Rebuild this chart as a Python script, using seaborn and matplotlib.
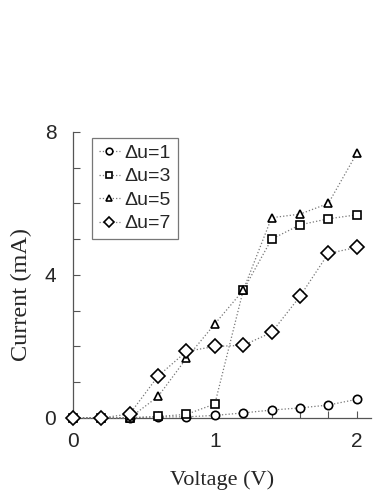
import matplotlib
matplotlib.use('Agg')
import matplotlib.pyplot as plt
import seaborn as sns
import pandas as pd
from matplotlib.ticker import MultipleLocator

voltage = [0, 0.2, 0.4, 0.6, 0.8, 1.0, 1.2, 1.4, 1.6, 1.8, 2.0]
du1 = [0, 0, 0.01, 0.03, 0.03, 0.07, 0.14, 0.22, 0.28, 0.36, 0.52]
du3 = [0, 0, 0, 0.04, 0.1, 0.39, 3.57, 5.0, 5.4, 5.57, 5.68]
du5 = [0, 0, 0, 0.6, 1.67, 2.63, 3.57, 5.6, 5.7, 6.0, 7.4]
du7 = [0, 0, 0.11, 1.17, 1.86, 2.0, 2.03, 2.39, 3.4, 4.6, 4.77]

labels = ['Δu=1', 'Δu=3', 'Δu=5', 'Δu=7']
markers = ['o', 's', '^', 'D']
sizes = [6, 6, 6, 7]

sns.set_style('ticks')
plt.rcParams['font.family'] = ['Liberation Sans', 'DejaVu Sans']

fig = plt.figure(figsize=(3.82, 4.94), dpi=100)
ax = fig.add_axes([0.191, 0.154, 0.78, 0.579])

for lab, ys, m, s in zip(labels, [du1, du3, du5, du7], markers, sizes):
    df = pd.DataFrame({'Voltage': voltage, 'Current': ys})
    sns.lineplot(data=df, x='Voltage', y='Current', ax=ax, label=lab,
                 marker=m, markersize=s, markerfacecolor='white',
                 markeredgecolor='black', markeredgewidth=1.2,
                 color='#777777', linestyle=':', linewidth=0.9,
                 clip_on=False, zorder=3)

ax.set_xlim(0, 2.1)
ax.set_ylim(0, 8)
ax.xaxis.set_major_locator(MultipleLocator(1))
ax.xaxis.set_minor_locator(MultipleLocator(0.2))
ax.yaxis.set_major_locator(MultipleLocator(4))
ax.yaxis.set_minor_locator(MultipleLocator(1))
ax.tick_params(which='both', direction='in', length=5, width=0.8,
               color='#555555', labelsize=15)
ax.tick_params(axis='x', pad=10)
ax.tick_params(axis='y', pad=12)
for side in ['top', 'right']:
    ax.spines[side].set_visible(False)
for side in ['left', 'bottom']:
    ax.spines[side].set_color('#555555')
    ax.spines[side].set_linewidth(0.9)

ax.set_xlabel('Voltage (V)', family='Liberation Serif', fontsize=16, labelpad=14)
ax.set_ylabel('Current (mA)', family='Liberation Serif', fontsize=17.5)
ax.yaxis.set_label_coords(-0.138, 0.43)

leg = ax.legend(loc='upper left', bbox_to_anchor=(0.063, 0.98), fontsize=14,
                handlelength=1.1, handletextpad=0.25, markerscale=0.8,
                labelspacing=0.3, borderpad=0.35, borderaxespad=0,
                fancybox=False, framealpha=1)
leg.get_frame().set_edgecolor('#777777')
leg.get_frame().set_linewidth(0.9)

plt.savefig('out.png', dpi=100)
